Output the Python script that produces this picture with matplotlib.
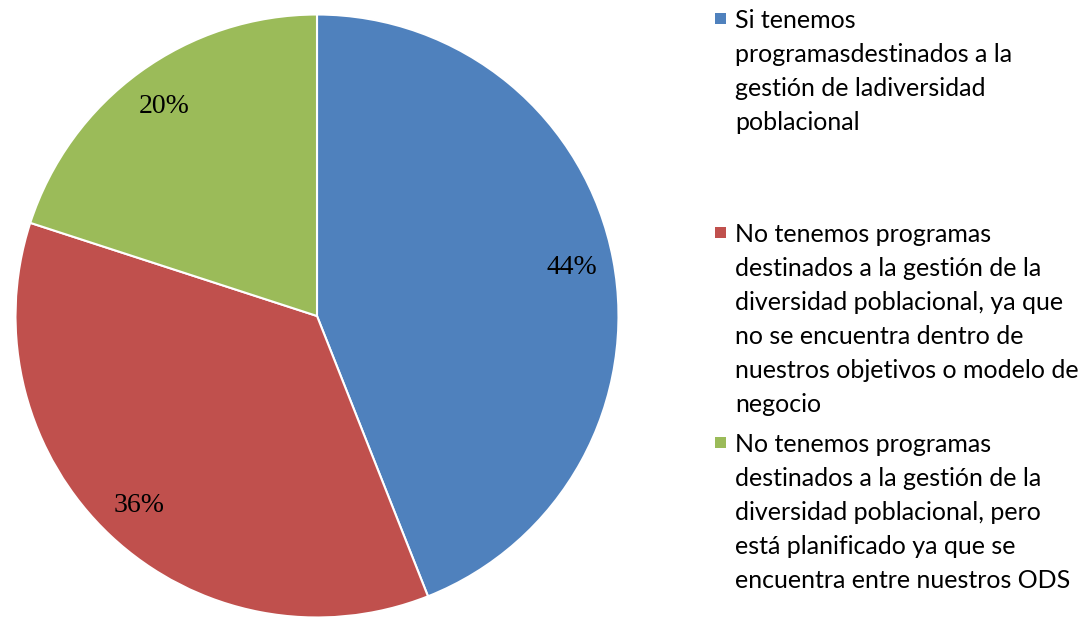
import matplotlib.pyplot as plt
from matplotlib.patches import Rectangle

# dados do grafico
categorias = [
    "Si tenemos\nprogramasdestinados a la\ngestión de ladiversidad\npoblacional",
    "No tenemos programas\ndestinados a la gestión de la\ndiversidad poblacional, ya que\nno se encuentra dentro de\nnuestros objetivos o modelo de\nnegocio",
    "No tenemos programas\ndestinados a la gestión de la\ndiversidad poblacional, pero\nestá planificado ya que se\nencuentra entre nuestros ODS",
]
valores = [44, 36, 20]
cores = ["#4F81BD", "#C0504D", "#9BBB59"]

fig = plt.figure(figsize=(10.91, 6.19), dpi=100)
ax = fig.add_axes([14 / 1091, 0, 606 / 1091, 606 / 619])
ax.pie(valores, colors=cores, startangle=90, counterclock=False,
       autopct="%d%%", pctdistance=0.86,
       wedgeprops=dict(edgecolor="white", linewidth=1.5),
       textprops=dict(family="Liberation Serif", fontsize=20, color="black"))
ax.set_xlim(-1.005, 1.005)
ax.set_ylim(-1.005, 1.005)
ax.set_aspect("equal")

# legenda manual (espacos diferentes entre itens)
topos = [9, 223, 433]
for cat, cor, topo in zip(categorias, cores, topos):
    y = 1 - topo / 619
    fig.patches.append(Rectangle((715 / 1091, 1 - (topo + 15) / 619), 11 / 1091, 11 / 619,
                                 transform=fig.transFigure, facecolor=cor, edgecolor="none"))
    fig.text(735 / 1091, y, cat, family="Lato", fontsize=18, va="top", ha="left",
             linespacing=1.58)

fig.savefig("out.png", dpi=100)
